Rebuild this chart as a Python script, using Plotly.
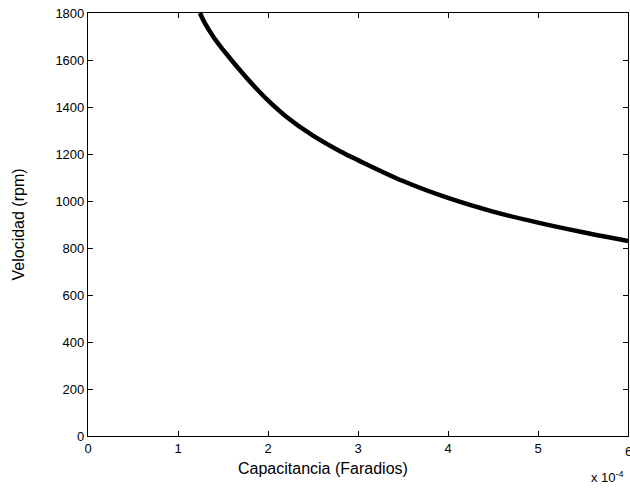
import plotly.graph_objects as go

# Capacitance (Farads) and speed (rpm)
capacitancia = [1.244e-4, 1.3e-4, 1.4e-4, 1.5e-4, 1.6e-4, 1.8e-4, 2.0e-4, 2.2e-4,
                2.5e-4, 2.8e-4, 3.0e-4, 3.5e-4, 4.0e-4, 4.5e-4, 5.0e-4, 5.5e-4, 6.0e-4]
velocidad = [1800, 1756, 1695, 1644, 1597, 1508, 1428, 1360,
             1278, 1212, 1174, 1085, 1013, 955, 908, 867, 830]

x_ticks = [0, 1e-4, 2e-4, 3e-4, 4e-4, 5e-4, 6e-4]
x_tick_labels = ["0", "1", "2", "3", "4", "5", "6"]
y_ticks = [0, 200, 400, 600, 800, 1000, 1200, 1400, 1600, 1800]

FONT = "Liberation Sans, Arial, Helvetica, sans-serif"

fig = go.Figure()
fig.add_trace(go.Scatter(x=capacitancia, y=velocidad, mode="lines",
                         line=dict(color="black", width=4.5, shape="spline", smoothing=1.0),
                         showlegend=False, hoverinfo="skip"))

axis_common = dict(showgrid=False, zeroline=False, showline=True, linecolor="black",
                   linewidth=1.2, mirror="ticks", ticks="inside", ticklen=5,
                   tickcolor="black", tickwidth=1,
                   tickfont=dict(family=FONT, size=13, color="black"))

fig.update_xaxes(range=[0, 6e-4], tickvals=x_ticks, ticktext=x_tick_labels, **axis_common)
fig.update_yaxes(range=[0, 1800], tickvals=y_ticks, **axis_common)

fig.update_layout(
    width=630, height=489,
    margin=dict(l=88, r=2, t=13, b=53),
    paper_bgcolor="white", plot_bgcolor="white",
    font=dict(family=FONT, color="black"),
    annotations=[
        dict(text=x_tick_labels[-1], xref="x", yref="paper", x=x_ticks[-1], y=0,
             yshift=-15, xanchor="center", yanchor="middle", showarrow=False,
             font=dict(family=FONT, size=13, color="black")),
        dict(text="Capacitancia (Faradios)", xref="paper", yref="paper", x=0.435, y=0,
             yshift=-32, xanchor="center", yanchor="middle", showarrow=False,
             font=dict(family=FONT, size=16, color="black")),
        dict(text="Velocidad (rpm)", xref="paper", yref="paper", x=0, xshift=-70, y=0.5,
             xanchor="center", yanchor="middle", textangle=-90, showarrow=False,
             font=dict(family=FONT, size=16, color="black")),
        dict(text="x 10<sup>-4</sup>", xref="paper", yref="paper", x=1, xshift=-2, y=0,
             yshift=-41, xanchor="right", yanchor="middle", showarrow=False,
             font=dict(family=FONT, size=13, color="black")),
    ],
)

fig.write_html("out.html")
